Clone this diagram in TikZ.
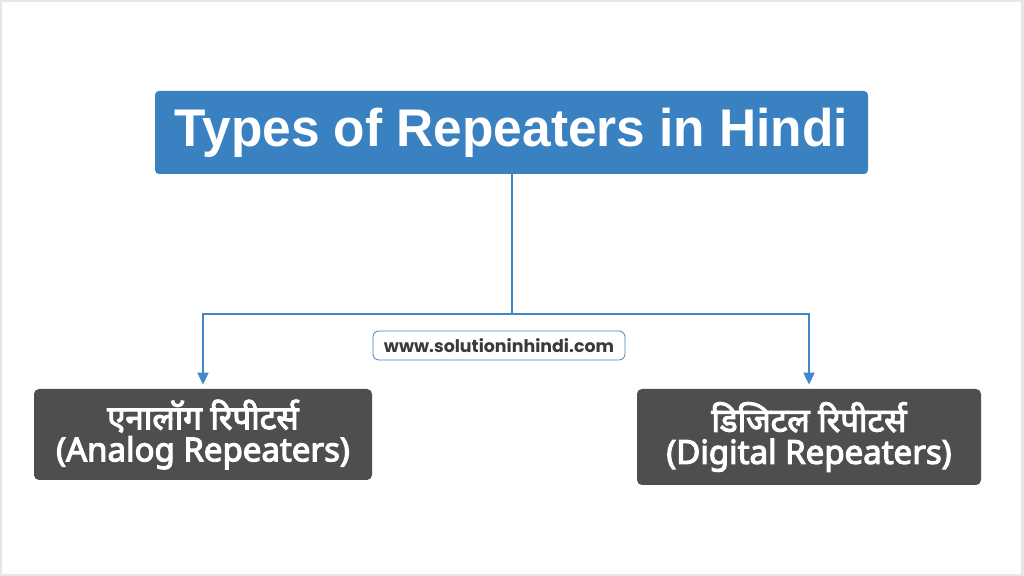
\documentclass[tikz,border=0pt]{standalone}
\usepackage{fontspec}
\setmainfont{Liberation Sans}
\newfontfamily\hindi[Script=Devanagari,FakeBold=3.5]{Noto Sans}
\newfontfamily\sitefont{Poppins}
\usetikzlibrary{arrows.meta,positioning}
\definecolor{headblue}{HTML}{3A81C1}
\definecolor{lineblue}{HTML}{4287C9}
\definecolor{boxgray}{HTML}{4D4E4E}
\definecolor{framegray}{HTML}{E6E6E6}
\definecolor{sitegray}{HTML}{3A3A3A}
\begin{document}
\begin{tikzpicture}[x=0.5pt,y=-0.5pt,
  head/.style={fill=headblue,rounded corners=2pt,minimum width=356.5pt,minimum height=41.5pt,
    text=white,font=\fontsize{26.5}{28}\selectfont\bfseries},
  kind/.style={fill=boxgray,rounded corners=2.5pt,text=white,align=center,
    font=\hindi\fontsize{16.5}{16}\selectfont},
  link/.style={draw=lineblue,line width=1pt,shorten >=2pt,-{Triangle[length=6pt,width=5.5pt]}}]
\fill[framegray] (0,0) rectangle (1024,576);
\fill[white] (2,2) rectangle (1021,574);

\node[head] (types) at (511.5,132.5) {\scalebox{0.97}[1]{Types of Repeaters in Hindi}};
\node[kind,minimum width=169pt,minimum height=45.5pt] (r_left) at (203,434.5)
  {एनालॉग रिपीटर्स\\(Analog Repeaters)};
\node[kind,minimum width=172pt,minimum height=48pt] (r_right) at (809,437)
  {डिजिटल रिपीटर्स\\(Digital Repeaters)};

\coordinate (fork) at (511.5,314);
\draw[lineblue,line width=1pt] (types.south) -- (fork);
\draw[link] (fork) -| (r_left.north);
\draw[link] (fork) -| (r_right.north);

\node[draw=lineblue,fill=white,rounded corners=3pt,minimum width=126pt,minimum height=14.5pt,
  text=sitegray,font=\sitefont\fontsize{8.7}{9}\selectfont\bfseries] (site) at (499,345.5)
  {www.solutioninhindi.com};
\end{tikzpicture}
\end{document}
